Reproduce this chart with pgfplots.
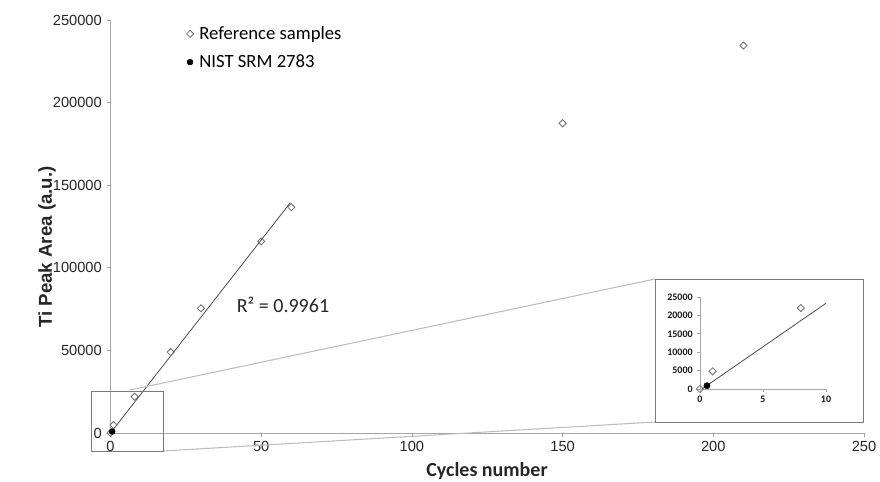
\documentclass[border=0pt]{standalone}
\usepackage{fontspec}
\setmainfont{Liberation Sans}
\newfontfamily\calibri{Carlito}
\usepackage{pgfplots}
\pgfplotsset{compat=1.18}
\definecolor{axgray}{HTML}{A6A6A6}
\definecolor{mkgray}{HTML}{6E6E6E}
\definecolor{zoomgray}{HTML}{BDBDBD}
\definecolor{boxgray}{HTML}{7A7A7A}
\begin{document}
\begin{tikzpicture}
\useasboundingbox (0,0) rectangle (660pt,360.75pt);
\begin{axis}[
  at={(82.875pt,36pt)}, anchor=south west,
  scale only axis, width=565.125pt, height=309.75pt,
  xmin=0, xmax=250, ymin=0, ymax=250000,
  axis x line=bottom, axis y line=left,
  axis line style={axgray,-},
  every tick/.style={axgray, semithick},
  tick align=outside, major tick length=3pt,
  xtick={0,50,...,250}, ytick={0,50000,...,250000},
  scaled ticks=false,
  /pgf/number format/fixed,
  /pgf/number format/1000 sep={},
  /pgf/number format/assume math mode=true,
  ticklabel style={font=\fontsize{11}{13}\selectfont, text=black!85},
  clip=false,
  legend style={draw=none, fill=none, at={(0.099,0.99)}, anchor=north west,
    inner sep=0pt, row sep=7pt, column sep=2pt, font=\calibri\fontsize{14}{16}\selectfont,
    nodes={inner sep=1.5pt}},
  legend cell align=left,
  legend image code/.code={\path[draw=none,fill=none] (0pt,-3pt) rectangle (7pt,3pt); \draw[#1] plot coordinates {(3.5pt,0pt)};},
]
\addplot[only marks, mark=square, mark size=1.9pt,
  mark options={rotate=45, draw=mkgray, fill=white, line width=0.6pt}]
  coordinates {(0,0) (1,4800) (8,22000) (20,49000) (30,75500) (50,116000) (60,136700) (150,187500) (210,234500)};
\addlegendentry{Reference samples}
\addplot[only marks, mark=*, mark size=2.2pt, black] coordinates {(0.55,900)};
\addlegendentry{NIST SRM 2783}
\addplot[no marks, black!70, line width=0.6pt, forget plot] coordinates {(0,0) (59.7,139500)};
\end{axis}
\begin{scope}[x=0.75pt, y=-0.75pt, shift={(0pt,360.75pt)}]
  \draw[zoomgray, line width=0.8pt] (130,390) -- (655,279);
  \draw[zoomgray, line width=0.8pt] (163,451) -- (655,422);
  \draw[boxgray, line width=0.7pt] (91,391) rectangle (163,451);
  \draw[boxgray, line width=0.7pt, fill=white] (655,279) rectangle (863,422);
  \node[font=\calibri\fontsize{15}{18}\selectfont, text=black!85] at (283,305) {R² = 0.9961};
  \node[font=\bfseries\fontsize{14}{16}\selectfont, rotate=90, text=black!85] at (47,247) {Ti Peak Area (a.u.)};
  \node[font=\calibri\bfseries\fontsize{15}{18}\selectfont, anchor=base, text=black!85] at (487,477) {Cycles number};
\end{scope}
\begin{axis}[
  at={(525pt,69pt)}, anchor=south west,
  scale only axis, width=94.5pt, height=69pt,
  xmin=0, xmax=10, ymin=0, ymax=25000,
  axis x line=bottom, axis y line=left,
  axis line style={axgray,-},
  every tick/.style={axgray, semithick},
  tick align=outside, major tick length=2pt,
  xtick={0,5,10}, ytick={0,5000,...,25000},
  scaled ticks=false,
  /pgf/number format/fixed,
  /pgf/number format/1000 sep={},
  /pgf/number format/assume math mode=true,
  ticklabel style={font=\calibri\bfseries\fontsize{7.5}{9}\selectfont, text=black!90},
  clip=false,
]
\addplot[only marks, mark=square, mark size=1.9pt,
  mark options={rotate=45, draw=mkgray, fill=white, line width=0.6pt}]
  coordinates {(0,0) (1,4800) (8,22000)};
\addplot[only marks, mark=*, mark size=2.3pt, black] coordinates {(0.55,900)};
\addplot[no marks, black!70, line width=0.6pt] coordinates {(0.15,0) (10,23300)};
\end{axis}
\end{tikzpicture}
\end{document}
